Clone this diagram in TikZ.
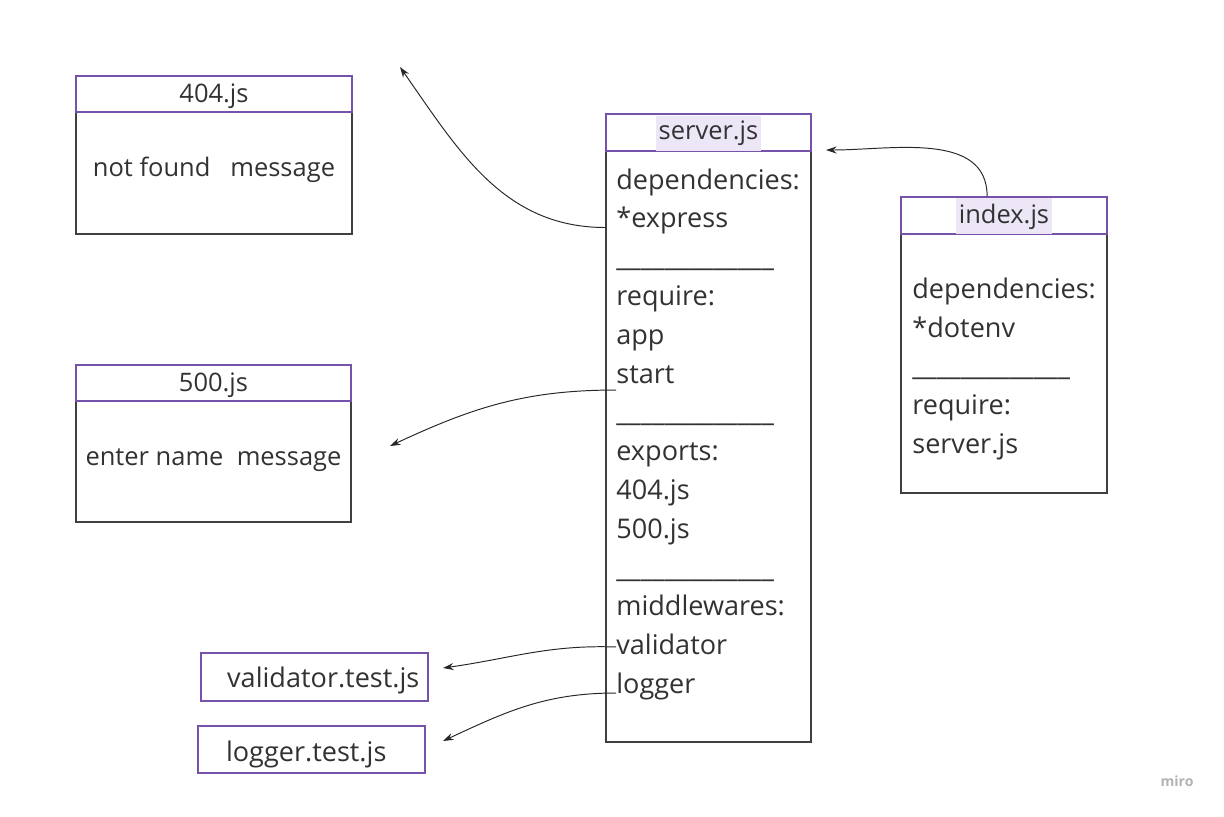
\documentclass[tikz,border=0pt]{standalone}
\usepackage{fontspec}
\setmainfont{Open Sans}
\usepackage{xcolor}
\usetikzlibrary{positioning, arrows.meta}
\definecolor{mirov}{RGB}{118,82,170}
\definecolor{hilite}{RGB}{236,230,246}
\definecolor{txt}{RGB}{50,50,50}

\begin{document}
\begin{tikzpicture}[x=0.02cm,y=-0.02cm]
   \tikzstyle{body}=[draw=black!75, line width=0.8pt, inner sep=0pt]
   \tikzstyle{head}=[draw=mirov, line width=0.8pt, inner sep=0pt]
   \tikzstyle{tx}=[anchor=base west, inner sep=0pt, text=txt, font=\fontsize{15.4}{18}\selectfont]
   \tikzstyle{hd}=[inner sep=0pt, text=txt, font=\fontsize{14.5}{17}\selectfont]
   \tikzstyle{lk}=[black!85, line width=0.55pt, -{Stealth[length=6pt,width=4pt]}]
   \useasboundingbox (0,0) rectangle (1224,816);
   %% 404.js
\node (nf) at (214,155) [body, minimum width=5.52cm, minimum height=3.16cm] {};
\node (nfh) at (214,94) [head, minimum width=5.52cm, minimum height=0.72cm] {};
\node (nft) at ([yshift=-1pt]nfh) [hd] {404.js};
\node (nfm) at (214,170) [hd] {not found~~~message};
   %% 500.js
\node (ie) at (213.5,443.5) [body, minimum width=5.5cm, minimum height=3.14cm] {};
\node (ieh) at (213.5,383) [head, minimum width=5.5cm, minimum height=0.72cm] {};
\node (iet) at ([yshift=-1pt]ieh) [hd] {500.js};
\node (iem) at (213.5,460) [hd] {enter name~~message};
   %% server.js
\node (sv) at (708.5,428) [body, minimum width=4.1cm, minimum height=12.56cm] {};
\node (svh) at (708.5,132.5) [head, minimum width=4.1cm, minimum height=0.74cm] {};
\node (svt) at ([yshift=-0.5pt]svh) [hd, fill=hilite, inner xsep=1.5pt, inner ysep=3pt] {server.js};
\node (s1) at (616,189) [tx] {dependencies:};
\node (s2) at (616,227.5) [tx] {*express};
\node (s3) at (616,266) [tx] {\_\_\_\_\_\_\_\_\_\_\_\_\_};
\node (s4) at (616,305) [tx] {require:};
\node (s5) at (616,344) [tx] {app};
\node (s6) at (616,383) [tx] {start};
\node (s7) at (616,421) [tx] {\_\_\_\_\_\_\_\_\_\_\_\_\_};
\node (s8) at (616,460) [tx] {exports:};
\node (s9) at (616,499) [tx] {404.js};
\node (s10) at (616,538) [tx] {500.js};
\node (s11) at (616,577) [tx] {\_\_\_\_\_\_\_\_\_\_\_\_\_};
\node (s12) at (616,615) [tx] {middlewares:};
\node (s13) at (616,654) [tx] {validator};
\node (s14) at (616,693) [tx] {logger};
   %% index.js
\node (ix) at (1004,345) [body, minimum width=4.12cm, minimum height=5.92cm] {};
\node (ixh) at (1004,215.5) [head, minimum width=4.12cm, minimum height=0.74cm] {};
\node (ixt) at ([yshift=-0.5pt]ixh) [hd, fill=hilite, inner xsep=1.5pt, inner ysep=3pt] {index.js};
\node (i1) at (912,298) [tx] {dependencies:};
\node (i2) at (912,337) [tx] {*dotenv};
\node (i3) at (912,375.5) [tx] {\_\_\_\_\_\_\_\_\_\_\_\_\_};
\node (i4) at (912,414.5) [tx] {require:};
\node (i5) at (912,453) [tx] {server.js};
   %% tests
\node (vt) at (314.5,677) [head, minimum width=4.54cm, minimum height=0.96cm] {};
\node (vtt) at ([yshift=-2pt]vt) [hd, font=\fontsize{15.4}{18}\selectfont, xshift=5pt] {validator.test.js};
\node (lt) at (311.5,749.5) [head, minimum width=4.54cm, minimum height=0.94cm] {};
\node (ltt) at ([yshift=-3pt]lt) [hd, font=\fontsize{15.4}{18}\selectfont, xshift=-3pt] {logger.test.js};
\node (mr) at (1177,781) [text=black!30, font=\fontsize{8}{9}\selectfont\bfseries] {miro};
   %% arrows
\coordinate (e1) at (400,67);
\coordinate (e2) at (826,150);
\coordinate (e3) at (390,446);
\coordinate (e4) at (443,668);
\coordinate (e5) at (443,741);
 \draw[lk] (sv.west |- s2.base) to[out=180, in=-55] (e1);
 \draw[lk] ([xshift=-9.6pt]ixh.north) to[out=90, in=0] (e2);
 \draw[lk] ([yshift=-4pt]s6.base west) to[out=180, in=25] (e3);
 \draw[lk] ([yshift=4pt]s13.base west) to[out=178, in=8] (e4);
 \draw[lk] (s14.base west) to[out=180, in=25] (e5);
    \end{tikzpicture}
\end{document}
